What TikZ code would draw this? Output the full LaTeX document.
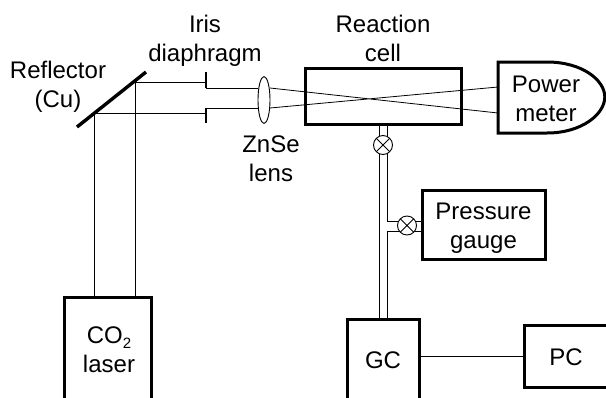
\documentclass[tikz,border=0pt]{standalone}
\usepackage{fontspec}
\usetikzlibrary{shapes.geometric}
\setmainfont{Liberation Sans}
\tikzset{
  lbl/.style={align=center,inner sep=0pt,outer sep=0pt,font=\fontsize{24}{29}\selectfont},
  unitbox/.style={draw,line width=3pt,inner sep=0pt,outer sep=0pt,align=center,font=\fontsize{24}{29}\selectfont},
  beamline/.style={line width=0.8pt},
  valve/.style={circle,draw,line width=0.9pt,fill=white,minimum size=19pt,inner sep=0pt,outer sep=0pt,path picture={
    \draw[line width=0.9pt] (path picture bounding box.south west) -- (path picture bounding box.north east)
      (path picture bounding box.north west) -- (path picture bounding box.south east);}},
}
\begin{document}
\begin{tikzpicture}[x=1pt,y=-1pt]
\useasboundingbox (0,0) rectangle (606,397);
\clip (0,0) rectangle (606,397);
% boxes
\node[unitbox,minimum width=156pt,minimum height=56pt] (cell) at (383,96) {};
\node[unitbox,minimum width=123pt,minimum height=69pt] (gauge) at (483.5,224.5) {};
\node[unitbox,minimum width=87pt,minimum height=130pt] (laser) at (108,362) {};
\node[unitbox,minimum width=72pt,minimum height=110pt] (gc) at (383,374) {};
\node[unitbox,minimum width=90pt,minimum height=62pt] (pc) at (569,356) {};
% labels
\node[lbl] (lreact) at (383,40.7) {\strut Reaction\\\strut cell};
\node[lbl] (liris) at (205,40.7) {\strut Iris\\\strut diaphragm};
\node[lbl] (lrefl) at (58,86.7) {\strut Reflector\\\strut (Cu)};
\node[lbl] (lznse) at (271,161.2) {\strut ZnSe\\\strut lens};
\node[lbl] (lpower) at (546,101.2) {\strut Power\\\strut meter};
\node[lbl] (lgauge) at (483.5,227.7) {\strut Pressure\\\strut gauge};
\node[lbl] (lco) at (109,352.2) {\strut CO\raisebox{-5pt}{\fontsize{15}{15}\selectfont 2}\\\strut laser};
\node[lbl] (lgc) at (383,362.2) {\strut GC};
\node[lbl] (lpc) at (566,359.2) {\strut PC};
% power meter outline
\coordinate (mtl) at (498,62);
\coordinate (mbl) at (498,133);
\draw[line width=3pt,line join=miter] (mtl) -- (547,62) .. controls (582,62) and (604.8,80) .. (604.8,97)
  .. controls (604.8,114) and (582,133) .. (547,133) -- (mbl) -- cycle;
% mirror
\coordinate (m1) at (77,127);
\coordinate (m2) at (146,72);
\draw[line width=3.4pt] (m1) -- (m2);
% beam, laser to mirror to iris
\coordinate (hitL) at (94,113);
\coordinate (hitU) at (135,82);
\coordinate (irisU) at (205,82);
\coordinate (irisL) at (205,113);
\draw[beamline] (laser.north -| hitL) -- (hitL) -- (irisL);
\draw[beamline] (laser.north -| hitU) -- (hitU) -- (irisU);
% iris
\coordinate (iu1) at (206,72);
\coordinate (iu2) at (206,88);
\coordinate (il1) at (206,108);
\coordinate (il2) at (206,123);
\draw[line width=1.2pt] (iu1) -- (iu2) (il1) -- (il2);
% lens
\node[draw,ellipse,line width=0.9pt,fill=white,minimum width=12pt,minimum height=47pt,inner sep=0pt,outer sep=0pt] (lens) at (264,100) {};
\draw[beamline] (iu2) -- (lens.west |- iu2) (il1) -- (lens.west |- il1);
% focused beams
\coordinate (lensU) at (270,88);
\coordinate (lensL) at (270,108);
\coordinate (detU) at (498,87);
\coordinate (detL) at (498,113);
\draw[beamline] (lensU) -- (detL) (lensL) -- (detU);
% pipes
\coordinate (pl) at (379,124);
\coordinate (pr) at (387,124);
\coordinate (br1) at (387,221);
\coordinate (br2) at (387,231);
\draw[beamline] (pl) -- (pl |- gc.north);
\draw[beamline] (pr) -- (br1) -- (gauge.west |- br1);
\draw[beamline] (gauge.west |- br2) -- (br2) -- (br2 |- gc.north);
% valves
\node[valve] (v1) at (383,145) {};
\node[valve] (v2) at (407,225.5) {};
% signal
\draw[beamline] (gc.east |- pc.west) -- (pc.west);
\end{tikzpicture}
\end{document}
